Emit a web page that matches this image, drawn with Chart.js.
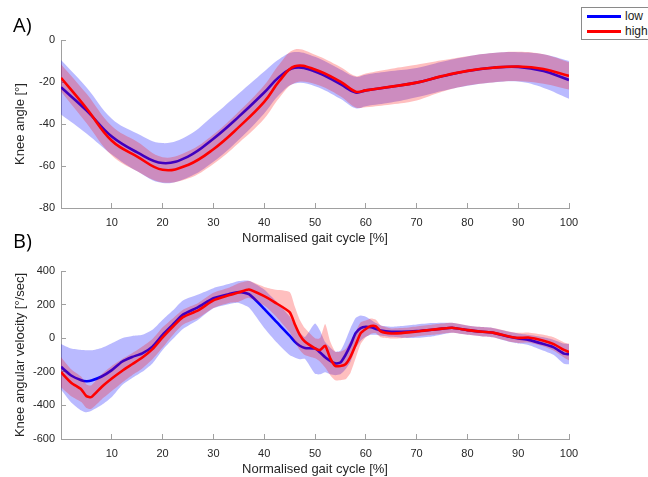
<!DOCTYPE html>
<html><head><meta charset="utf-8">
<script src="https://cdn.jsdelivr.net/npm/chart.js@4.4.0/dist/chart.umd.min.js"></script>
<style>
html,body{margin:0;padding:0;background:#fff;}
body{width:648px;height:477px;overflow:hidden;position:relative;font-family:"Liberation Sans",Arial,sans-serif;}
canvas{position:absolute;left:0;}
#ca{top:0;}
#cb{top:231px;}
.lab{position:absolute;font-family:"Open Sans","Liberation Sans",sans-serif;font-size:20px;line-height:20px;color:#000;}
#legend{position:absolute;left:581px;top:7px;width:90px;height:31px;border:1px solid #8a8a8a;background:#fff;font-size:12px;color:#222;}
.row{position:absolute;left:5px;height:14px;line-height:14px;}
.sw{position:absolute;left:0;top:6px;width:34px;height:3px;}
.tx{position:absolute;left:38px;top:0;}
</style>
</head><body>
<canvas id="ca" width="648" height="248"></canvas>
<canvas id="cb" width="648" height="248"></canvas>
<div class="lab" style="left:13px;top:15px;">A)</div>
<div class="lab" style="left:13px;top:231px;">B)</div>
<div id="legend">
  <div class="row" style="top:1px;"><span class="sw" style="background:#0000ff"></span><span class="tx">low</span></div>
  <div class="row" style="top:16px;"><span class="sw" style="background:#ff0000"></span><span class="tx">high</span></div>
</div>
<script>
// ---- Data: panel A (knee angle, degrees) ----
const aX = [0,5,10,15,20,25,30,35,40,43,46,50,55,58,60,65,70,75,80,85,90,95,100];
const aLowMean  = [-22.5,-33.5,-46,-53.5,-58.6,-55.5,-47,-36.5,-25,-17.5,-13.2,-15,-21,-25,-24,-22.3,-20.3,-17.3,-14.8,-13.2,-12.8,-14.8,-19];
const aLowSD    = [13,11,8.5,9,9.5,10,11,11,10,8.5,7.5,7,7,7.5,7.5,7.5,7,7,7,7,7,8,9];
const aHighMean = [-18,-32.5,-48,-55.5,-61.8,-59.5,-52,-41.5,-29.5,-19.5,-12.5,-14,-19.8,-24.6,-24,-22.2,-20.3,-17.2,-14.7,-13.2,-12.6,-13.8,-17.1];
const aHighSD   = [6.5,7,7,7,6,6.5,7,7.5,8,8,8,7,7,7.5,8,8.5,8.5,7.5,7,7,7,7,6.5];
const aTicksX = [10,20,30,40,50,60,70,80,90,100];

// ---- Data: panel B (knee angular velocity, deg/sec) ----
const bX = [0,2,4,5,6,8,10,12,14,16,18,20,22,24,27,30,33,35,37,40,42,45,46,47,48,50,51,52,53,54,55,56,57,58,59,60,61,62,63,65,67,70,73,75,77,80,83,85,88,90,92,95,97,99,100];
const bLowMean  = [-170,-222,-250,-256,-252,-228,-190,-140,-112,-90,-50,20,80,140,185,238,262,275,262,175,110,15,-20,-45,-58,-62,-85,-113,-135,-150,-145,-100,-40,30,60,68,65,55,45,38,38,42,50,57,62,48,38,33,10,-2,-10,-35,-55,-92,-95];
const bLowSD    = [135,160,180,185,180,170,160,140,125,110,100,90,85,85,75,60,60,65,80,115,120,115,95,80,65,150,130,90,80,70,70,85,100,90,75,60,45,35,30,30,35,40,40,35,30,28,28,28,30,30,30,40,45,60,60];
const bHighMean = [-202,-265,-305,-345,-350,-290,-240,-195,-155,-115,-65,5,68,125,165,225,255,272,290,250,215,155,85,20,-20,-60,-70,-45,-120,-165,-165,-155,-110,-40,30,55,72,70,40,28,30,40,50,57,62,48,38,33,12,2,4,-15,-35,-70,-82];
const bHighSD   = [90,80,75,70,70,75,75,70,65,65,60,60,50,45,45,45,45,55,50,55,75,120,105,90,80,60,70,130,100,85,85,90,95,80,65,50,45,40,35,30,30,30,30,30,30,28,28,28,30,30,30,35,40,45,50];

const seriesNames = ['low','high'];
const AXIS = '#a0a0a0', TXT = '#262626';
const FONT = '"Liberation Sans", Arial, sans-serif';

function pts(xs, ys){ return xs.map((x,i)=>({x:x, y:ys[i]})); }
function band(m, s, sign){ return m.map((v,i)=>v + sign*s[i]); }

function buildSets(xs, lowM, lowS, highM, highS, tension){
  const base = {pointRadius:0, pointHoverRadius:0, tension:tension};
  return [
    Object.assign({label:seriesNames[1], data:pts(xs, highM), borderColor:'#ff0000', borderWidth:2.6, fill:false}, base),
    Object.assign({label:'high+', data:pts(xs, band(highM,highS,1)), borderColor:'rgba(0,0,0,0)', borderWidth:0, fill:'+1', backgroundColor:'rgba(255,0,0,0.25)'}, base),
    Object.assign({label:'high-', data:pts(xs, band(highM,highS,-1)), borderColor:'rgba(0,0,0,0)', borderWidth:0, fill:false}, base),
    Object.assign({label:seriesNames[0], data:pts(xs, lowM), borderColor:'#0000ff', borderWidth:2.6, fill:false}, base),
    Object.assign({label:'low+', data:pts(xs, band(lowM,lowS,1)), borderColor:'rgba(0,0,0,0)', borderWidth:0, fill:'+1', backgroundColor:'rgba(0,0,255,0.27)'}, base),
    Object.assign({label:'low-', data:pts(xs, band(lowM,lowS,-1)), borderColor:'rgba(0,0,0,0)', borderWidth:0, fill:false}, base)
  ];
}

function makeChart(id, sets, yMin, yMax, yStep, yTitle, padTop){
  return new Chart(document.getElementById(id), {
    type:'line',
    data:{datasets:sets},
    options:{
      responsive:false, animation:false, events:[],
      layout:{padding:{left:0, right:79, top:padTop, bottom:0}},
      plugins:{legend:{display:false}, tooltip:{enabled:false}},
      scales:{
        x:{type:'linear', min:0, max:100,
          afterBuildTicks:(s)=>{ s.ticks = aTicksX.map(v=>({value:v})); },
          afterFit:(s)=>{ s.height = 40; },
          grid:{drawOnChartArea:false, drawTicks:true, tickLength:-5, color:AXIS, lineWidth:1},
          border:{display:true, color:AXIS, width:1},
          ticks:{padding:13, color:TXT, font:{family:FONT, size:11}, maxRotation:0},
          title:{display:true, text:'Normalised gait cycle [%]', color:TXT, font:{family:FONT, size:13}, padding:{top:0, bottom:1.5}}
        },
        y:{min:yMin, max:yMax,
          afterFit:(s)=>{ s.width = 61; },
          ticks:{stepSize:yStep, padding:11, color:TXT, font:{family:FONT, size:11}},
          grid:{drawOnChartArea:false, drawTicks:true, tickLength:-5, color:AXIS, lineWidth:1},
          border:{display:true, color:AXIS, width:1},
          title:{display:true, text:yTitle, color:TXT, font:{family:FONT, size:13}, padding:{top:13, bottom:0}}
        }
      }
    }
  });
}

makeChart('ca', buildSets(aX, aLowMean, aLowSD, aHighMean, aHighSD, 0.4), -80, 0, 20, 'Knee angle [°]', 40);
makeChart('cb', buildSets(bX, bLowMean, bLowSD, bHighMean, bHighSD, 0.2), -600, 400, 200, 'Knee angular velocity [°/sec]', 40);
</script>
</body></html>
